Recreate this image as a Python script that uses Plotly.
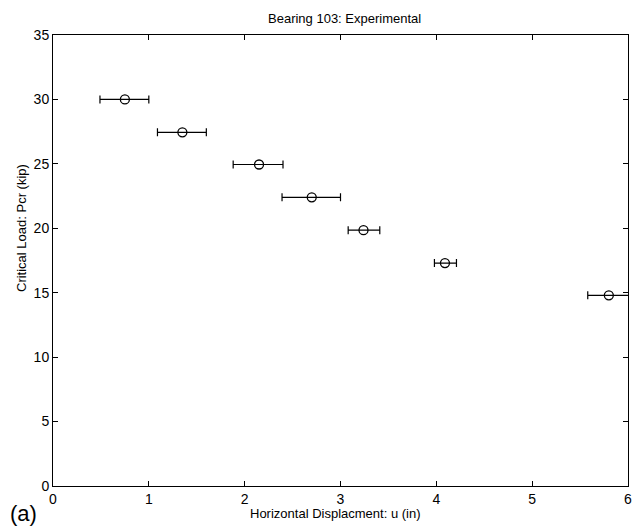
import plotly.graph_objects as go

# Data
pcr = [30, 27.45, 24.95, 22.4, 19.85, 17.3, 14.8]          # Critical load (kip)
u_mean = [0.75, 1.35, 2.15, 2.70, 3.24, 4.09, 5.80]         # displacement (in)
u_low = [0.49, 1.09, 1.88, 2.39, 3.08, 3.98, 5.58]
u_high = [1.00, 1.60, 2.40, 3.00, 3.41, 4.21, 6.10]

x_ticks = [0, 1, 2, 3, 4, 5, 6]
y_ticks = [0, 5, 10, 15, 20, 25, 30, 35]

err_plus = [h - m for h, m in zip(u_high, u_mean)]
err_minus = [m - l for m, l in zip(u_mean, u_low)]

FONT = "Liberation Sans, Arial, Helvetica, sans-serif"

fig = go.Figure()
fig.add_trace(go.Scatter(
    x=u_mean, y=pcr, mode="markers",
    marker=dict(symbol="circle-open", size=9, color="black", line=dict(width=1.3, color="black")),
    error_x=dict(type="data", symmetric=False, array=err_plus, arrayminus=err_minus,
                 color="black", thickness=1.2, width=4),
    showlegend=False, hoverinfo="skip",
))

W, H = 641, 529
ml, mr, mt, mb = 53, 13, 35, 43

fig.update_layout(
    width=W, height=H,
    margin=dict(l=ml, r=mr, t=mt, b=mb, autoexpand=False),
    paper_bgcolor="white", plot_bgcolor="white",
    font=dict(family=FONT, color="black", size=13),
    xaxis=dict(range=[0, 6], tickvals=x_ticks, ticks="inside", ticklen=5, tickcolor="black",
               showline=True, linecolor="black", linewidth=1, mirror="allticks", automargin=False,
               showgrid=False, zeroline=False, tickfont=dict(size=14, family=FONT, color="black")),
    yaxis=dict(range=[0, 35], tickvals=y_ticks, ticks="inside", ticklen=5, tickcolor="black",
               showline=True, linecolor="black", linewidth=1, mirror="allticks", automargin=False,
               showgrid=False, zeroline=False, tickfont=dict(size=14, family=FONT, color="black")),
)

pw = W - ml - mr
ph = H - mt - mb

def px_x(px):
    return (px - ml) / pw

def px_y(py):
    return (H - mb - py) / ph

fig.add_annotation(text="Bearing 103: Experimental", xref="paper", yref="paper",
                   x=px_x(344), y=px_y(18), showarrow=False, xanchor="center", yanchor="middle",
                   font=dict(size=13, family=FONT, color="black"))
fig.add_annotation(text="Horizontal Displacment: u (in)", xref="paper", yref="paper",
                   x=px_x(335), y=px_y(513), showarrow=False, xanchor="center", yanchor="middle",
                   font=dict(size=13, family=FONT, color="black"))
fig.add_annotation(text="Critical Load: Pcr (kip)", xref="paper", yref="paper",
                   x=px_x(21), y=px_y(228), showarrow=False, xanchor="center", yanchor="middle",
                   textangle=-90, font=dict(size=13, family=FONT, color="black"))
fig.add_annotation(text="(a)", xref="paper", yref="paper",
                   x=px_x(8), y=px_y(528), showarrow=False, xanchor="left", yanchor="bottom",
                   font=dict(size=22, family=FONT, color="black"))

fig.write_html("out.html", config={"displayModeBar": False},
               post_script="document.body.style.margin='0';document.body.style.overflow='hidden';")
